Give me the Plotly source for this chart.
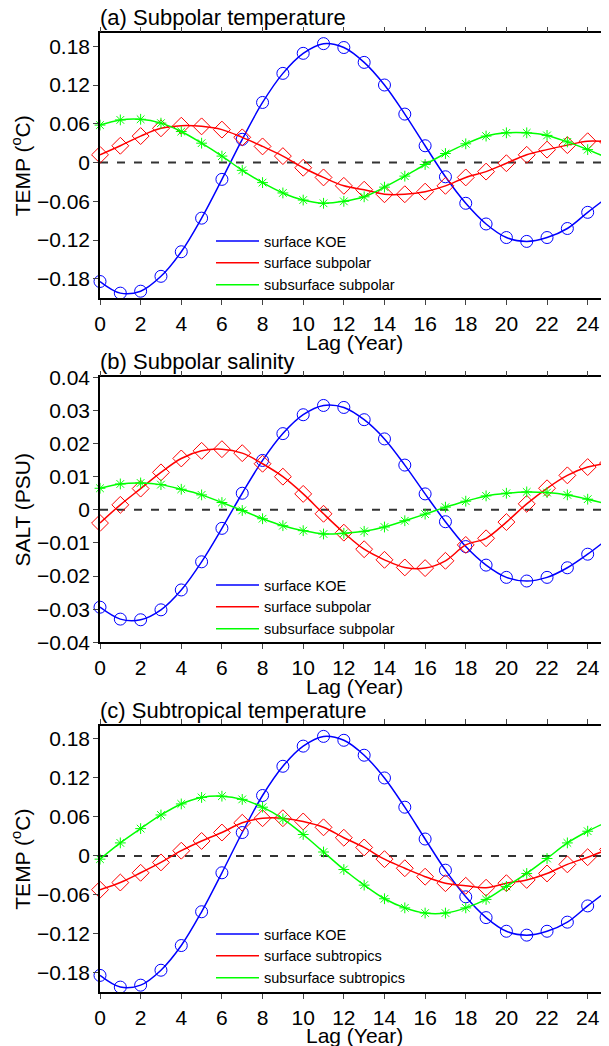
import plotly.graph_objects as go

lags = list(range(26))

# Panel (a) Subpolar temperature
koe_temp = [-0.184, -0.202, -0.199, -0.176, -0.138, -0.086, -0.026, 0.036, 0.093, 0.138,
            0.169, 0.184, 0.178, 0.155, 0.120, 0.075, 0.026, -0.022, -0.063, -0.095,
            -0.116, -0.122, -0.116, -0.102, -0.077, -0.053]
subpolar_sfc_temp = [0.012, 0.026, 0.041, 0.053, 0.057, 0.056, 0.051, 0.039, 0.025, 0.010,
                     -0.008, -0.023, -0.036, -0.042, -0.049, -0.049, -0.045, -0.036, -0.023, -0.014,
                     -0.001, 0.012, 0.020, 0.027, 0.033, 0.032]
subpolar_sub_temp = [0.058, 0.066, 0.067, 0.061, 0.048, 0.030, 0.010, -0.012, -0.031, -0.047,
                     -0.058, -0.063, -0.060, -0.053, -0.038, -0.021, -0.003, 0.014, 0.029, 0.041,
                     0.046, 0.046, 0.042, 0.032, 0.020, 0.007]

# Panel (b) Subpolar salinity
koe_salt = [-0.0294, -0.0330, -0.0332, -0.0302, -0.0242, -0.0157, -0.0056, 0.0050, 0.0149, 0.0230,
            0.0287, 0.0315, 0.0309, 0.0272, 0.0214, 0.0135, 0.0048, -0.0036, -0.0111, -0.0167,
            -0.0204, -0.0215, -0.0204, -0.0175, -0.0134, -0.0087]
subpolar_sfc_salt = [-0.0040, 0.0015, 0.0064, 0.0113, 0.0155, 0.0178, 0.0183, 0.0171, 0.0139, 0.0100,
                     0.0048, -0.0012, -0.0069, -0.0119, -0.0151, -0.0174, -0.0176, -0.0154, -0.0106, -0.0086,
                     -0.0037, 0.0018, 0.0065, 0.0104, 0.0129, 0.0141]
subpolar_sub_salt = [0.0065, 0.0078, 0.0081, 0.0076, 0.0062, 0.0045, 0.0022, -0.0002, -0.0027, -0.0048,
                     -0.0063, -0.0073, -0.0071, -0.0065, -0.0052, -0.0033, -0.0013, 0.0008, 0.0026, 0.0042,
                     0.0050, 0.0054, 0.0052, 0.0045, 0.0032, 0.0017]

# Panel (c) Subtropical temperature
subtrop_sfc_temp = [-0.052, -0.041, -0.026, -0.010, 0.008, 0.023, 0.036, 0.051, 0.058, 0.058,
                    0.053, 0.044, 0.028, 0.013, -0.005, -0.019, -0.032, -0.042, -0.046, -0.049,
                    -0.042, -0.037, -0.027, -0.013, -0.002, 0.010]
subtrop_sub_temp = [-0.005, 0.020, 0.042, 0.063, 0.080, 0.090, 0.092, 0.087, 0.075, 0.057,
                    0.033, 0.006, -0.021, -0.045, -0.066, -0.080, -0.088, -0.088, -0.080, -0.067,
                    -0.047, -0.027, -0.004, 0.020, 0.038, 0.053]

titles = ["(a) Subpolar temperature", "(b) Subpolar salinity", "(c) Subtropical temperature"]
ytitles = ["TEMP (<sup>o</sup>C)", "SALT (PSU)", "TEMP (<sup>o</sup>C)"]
xtitle = "Lag (Year)"
names = [["surface KOE", "surface subpolar", "subsurface subpolar"],
         ["surface KOE", "surface subpolar", "subsurface subpolar"],
         ["surface KOE", "surface subtropics", "subsurface subtropics"]]
panels = [[koe_temp, subpolar_sfc_temp, subpolar_sub_temp],
          [koe_salt, subpolar_sfc_salt, subpolar_sub_salt],
          [koe_temp, subtrop_sfc_temp, subtrop_sub_temp]]
temp_ticks = [-0.18, -0.12, -0.06, 0, 0.06, 0.12, 0.18]
temp_labels = ["\u22120.18", "\u22120.12", "\u22120.06", "0", "0.06", "0.12", "0.18"]
salt_ticks = [-0.04, -0.03, -0.02, -0.01, 0, 0.01, 0.02, 0.03, 0.04]
salt_labels = ["\u22120.04", "\u22120.03", "\u22120.02", "\u22120.01", "0", "0.01", "0.02", "0.03", "0.04"]
x_ticks = list(range(0, 25, 2))

colors = ["#0000FF", "#FF0000", "#00FF00"]
symbols = ["circle-open", "diamond-open", "asterisk-open"]
msizes = [12, 13, 9]

# page body has an 8px margin: figure is laid out in image pixels minus that offset
OFF = 8
W, H = 609 - OFF, 1046 - OFF
FONT = "Liberation Sans, Arial, sans-serif"
img_left, img_right = 100, 608
img_top = [33.3, 377.3, 726.0]
img_bot = [298.3, 642.3, 992.3]
img_leg_row1 = [240, 584, 933]
img_xtitle = [342.7, 686.5, 1035.5]


def px(v):
    return v - OFF


fig = go.Figure()
for p in range(3):
    ax = "" if p == 0 else str(p + 1)
    leg = "legend" if p == 0 else "legend" + str(p + 1)
    for s in range(3):
        fig.add_trace(go.Scatter(
            x=lags, y=panels[p][s], mode="lines",
            line=dict(color=colors[s], width=1.5, shape="spline", smoothing=1.0),
            name=names[p][s], xaxis="x" + ax, yaxis="y" + ax, legend=leg, showlegend=True))
        fig.add_trace(go.Scatter(
            x=lags, y=panels[p][s], mode="markers",
            marker=dict(symbol=symbols[s], size=msizes[s], color=colors[s],
                        line=dict(color=colors[s], width=1)),
            xaxis="x" + ax, yaxis="y" + ax, showlegend=False, cliponaxis=False, hoverinfo="skip"))
    fig.add_shape(type="line", xref="x" + ax + " domain", yref="y" + ax, x0=0, x1=1, y0=0, y1=0,
                  line=dict(color="#333333", width=2, dash="8px,9px"), layer="below")

layout = dict(width=W, height=H, margin=dict(l=0, r=0, t=0, b=0),
              paper_bgcolor="white", plot_bgcolor="white",
              font=dict(family=FONT, size=21, color="black"), showlegend=True)
annotations = []
for p in range(3):
    ax = "" if p == 0 else str(p + 1)
    dom = [1 - px(img_bot[p]) / H, 1 - px(img_top[p]) / H]
    if p == 1:
        yr = [-0.04, 0.04]; tv = salt_ticks; tt = salt_labels
    else:
        yr = [-0.21, 0.2]; tv = temp_ticks; tt = temp_labels
    layout["xaxis" + ax] = dict(domain=[px(img_left) / W, min(1.0, px(img_right) / W)], range=[0, 25],
                                anchor="y" + ax,
                                tickmode="array", tickvals=x_ticks, ticks="outside", ticklen=5, tickwidth=1,
                                showline=True, linecolor="black", linewidth=1.5, mirror="ticks",
                                showgrid=False, zeroline=False, tickfont=dict(size=21),
                                ticklabelstandoff=1, automargin=False, fixedrange=True)
    layout["yaxis" + ax] = dict(domain=dom, range=yr, anchor="x" + ax,
                                tickmode="array", tickvals=tv, ticktext=tt, ticks="outside", ticklen=5,
                                tickwidth=1, showline=True, linecolor="black", linewidth=1.5, mirror="ticks",
                                showgrid=False, zeroline=False, tickfont=dict(size=21),
                                ticklabelstandoff=-1,
                                title=dict(text=ytitles[p], font=dict(size=21), standoff=1),
                                automargin=False, fixedrange=True)
    leg = "legend" if p == 0 else "legend" + str(p + 1)
    layout[leg] = dict(x=px(211) / W, xanchor="left", y=1 - (px(img_leg_row1[p]) - 15) / H, yanchor="top",
                       bgcolor="rgba(0,0,0,0)", borderwidth=0, font=dict(size=14.5, family=FONT),
                       tracegroupgap=0, itemwidth=43)
    annotations.append(dict(text=titles[p], xref="paper", yref="paper", x=px(98) / W, xanchor="left",
                            y=1 - px(img_top[p] - 1) / H, yanchor="bottom", showarrow=False,
                            font=dict(size=22, family=FONT)))
    annotations.append(dict(text=xtitle, xref="x" + ax + " domain", yref="paper", x=0.5, xanchor="center",
                            y=1 - px(img_xtitle[p]) / H, yanchor="middle", showarrow=False,
                            font=dict(size=21, family=FONT)))
layout["annotations"] = annotations
fig.update_layout(**layout)
fig.write_html("out.html")
